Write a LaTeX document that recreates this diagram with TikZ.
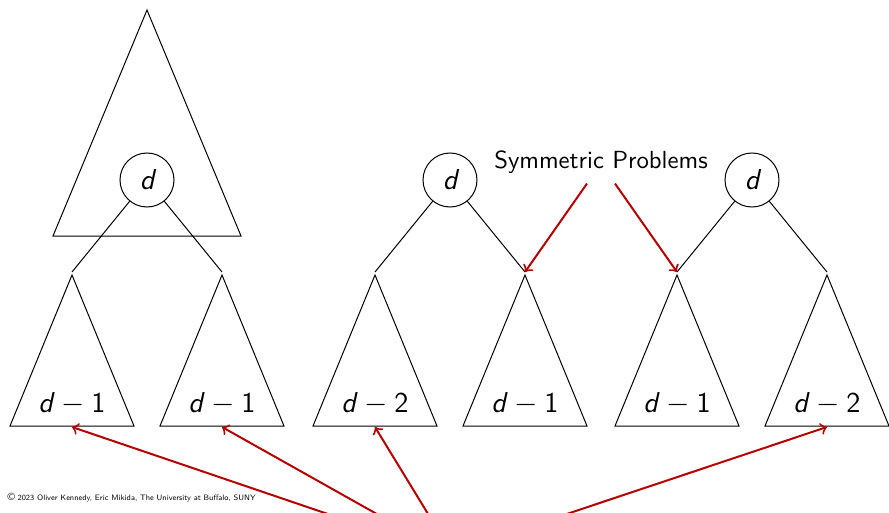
\documentclass[tikz,border=0pt]{standalone}
\definecolor{redc}{RGB}{180,0,0}
\begin{document}
\begin{tikzpicture}[x=0.4pt,y=-0.4pt, line width=0.4pt,
  rd/.style={draw=redc, line width=0.8pt, ->},
  tri/.style={draw, line join=miter},
  circ/.style={draw, circle, minimum size=21.6pt, inner sep=0pt, font=\fontsize{11.5}{13}\selectfont\sffamily\slshape},
  lbl/.style={font=\fontsize{11.5}{13}\selectfont\sffamily, inner sep=0pt, anchor=base},
  sym/.style={font=\fontsize{9.9}{12}\selectfont\sffamily, inner sep=3.6pt, anchor=base},
  foot/.style={font=\fontsize{3.15}{4}\selectfont\sffamily, inner sep=0pt, anchor=base west}]
\clip (0,0) rectangle (889,513);
% top big triangle
\draw[tri] (147,10) -- (241,236) -- (53,236) -- cycle;
% trees
\foreach \cx/\nm/\la/\lb in {147/a/1/1, 450/b/2/1, 752/c/1/2}{
  \node[circ] (\nm) at (\cx,180) {d};
  \coordinate (\nm L) at (\cx-75,272);
  \coordinate (\nm R) at (\cx+75,272);
  \coordinate (\nm Lb) at (\cx-75,427);
  \coordinate (\nm Rb) at (\cx+75,427);
  \draw (\nm) -- (\nm L);
  \draw (\nm) -- (\nm R);
  \draw[tri] (\cx-75,275) -- (\cx-75+62,426) -- (\cx-75-62,426) -- cycle;
  \draw[tri] (\cx+75,275) -- (\cx+75+62,426) -- (\cx+75-62,426) -- cycle;
  \node[lbl] (\nm l) at (\cx-75,413) {\textsl{d}${}-{}$\la};
  \node[lbl] (\nm r) at (\cx+75,413) {\textsl{d}${}-{}$\lb};
}
% symmetric problems
\node[sym] (sym) at (601,169) {Symmetric Problems};
\draw[rd] ([xshift=-5.6pt]sym.south) -- (bR);
\draw[rd] ([xshift=5.6pt]sym.south) -- (cL);
% repeated arrows from below
\coordinate (s1) at (419,545);
\coordinate (s2) at (432,545);
\coordinate (s3) at (447,545);
\coordinate (s4) at (474,545);
\draw[rd] (s1) -- (aLb);
\draw[rd] (s2) -- (aRb);
\draw[rd] (s3) -- (bLb);
\draw[rd] (s4) -- (cRb);
% footer
\node[foot] (ft) at (7,500) {{\fontsize{4.2}{4}\selectfont\textcopyright}\ 2023 Oliver Kennedy, Eric Mikida, The University at Buffalo, SUNY};
\end{tikzpicture}
\end{document}
